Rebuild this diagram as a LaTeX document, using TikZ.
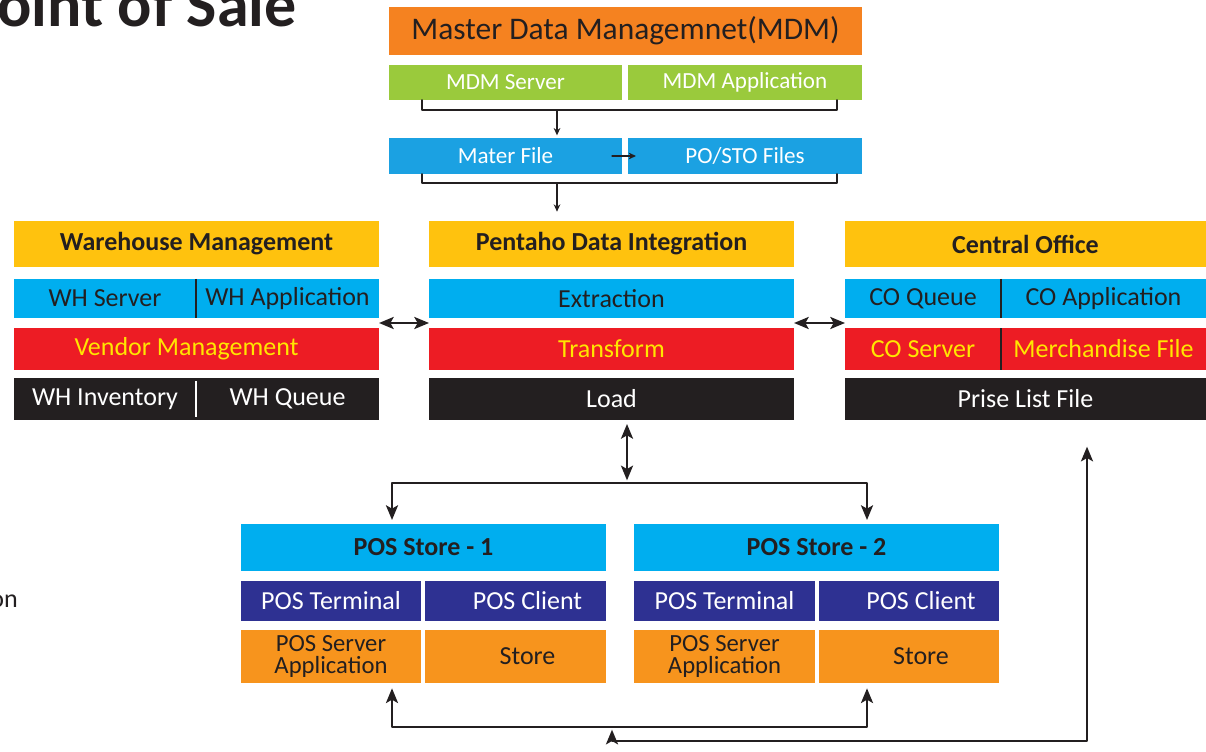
\documentclass[tikz,border=0pt]{standalone}
\usepackage{fontspec}
\setmainfont{Carlito}
\usepackage{tikz}
\usetikzlibrary{arrows.meta,calc}
\definecolor{mdmorange}{HTML}{F58220}
\definecolor{mdmgreen}{HTML}{9ACA3C}
\definecolor{fileblue}{HTML}{1BA1E2}
\definecolor{hdryellow}{HTML}{FFC20E}
\definecolor{rowblue}{HTML}{00AEEF}
\definecolor{rowred}{HTML}{ED1C24}
\definecolor{rowblack}{HTML}{231F20}
\definecolor{posnavy}{HTML}{2E3192}
\definecolor{posorange}{HTML}{F7941D}
\definecolor{ink}{HTML}{231F20}
\definecolor{textyellow}{HTML}{FFE600}
\newcommand{\TitleFont}{\fontsize{48}{50}\selectfont\bfseries}
\newcommand{\BigFont}{\fontsize{23.6}{26}\selectfont}
\newcommand{\SmallFont}{\fontsize{17.3}{20}\selectfont}
\newcommand{\RowFont}{\fontsize{19.5}{22}\selectfont}
\newcommand{\TwoLineFont}{\fontsize{18.5}{17}\selectfont}
\newcommand{\HeadFont}{\fontsize{19.5}{22}\selectfont\bfseries}

\begin{document}
\begin{tikzpicture}[line cap=round,line join=round,x=0.75pt,y=-0.75pt,
  cell/.style={rectangle,inner sep=0pt,outer sep=0pt,text=ink,font=\RowFont,align=center},
  boxsize/.style 2 args={minimum width=#1*0.75pt,minimum height=#2*0.75pt},
  head/.style={cell,fill=hdryellow,font=\HeadFont},
  bracket/.style={draw=ink,line width=1.3pt},
  thinarrow/.style={draw=ink,line width=0.9pt,-{Stealth[length=5.5pt,width=5pt]}},
  link/.style={draw=ink,line width=1.8pt},
  divider/.style={line width=1.5pt,line cap=butt},
  >={Stealth[length=11pt,width=9pt,inset=2.5pt]}]
  \useasboundingbox[fill=white] (0,0) rectangle (1206,752);
  \node[font=\TitleFont,text=ink,anchor=base east,inner sep=0pt] (title) at (297,27) {Point of Sale};
  \node[font=\RowFont,text=ink,anchor=base east,inner sep=0pt] (sidenote) at (18,607) {on};

  \node[cell,fill=mdmorange,font=\BigFont,boxsize={473}{48}] (mdm) at (625.5,31) {Master Data Managemnet(MDM)};
  \node[cell,fill=mdmgreen,text=white,font=\SmallFont,boxsize={233}{35}] (mdmsrv) at (505.5,82.5) {MDM Server};
  \node[cell,fill=mdmgreen,text=white,font=\SmallFont,boxsize={234}{35}] (mdmapp) at (745,82.5) {MDM Application};
  \node[cell,fill=fileblue,text=white,font=\SmallFont,boxsize={233}{36}] (mater) at (505.5,156) {Mater File};
  \node[cell,fill=fileblue,text=white,font=\SmallFont,boxsize={234}{36}] (postofiles) at (745,156) {PO/STO Files};
  \draw[bracket] ($(mdmsrv.south west)+(33,0)$) |- ($(mdmapp.south east)+(-25,10)$) -- ($(mdmapp.south east)+(-25,0)$);
  \coordinate (b1) at (557,110);
  \draw[thinarrow,shorten >=2pt] (b1) -- (b1 |- mater.north);
  \draw[thinarrow] ($(mater.east)+(-10,0)$) -- ($(postofiles.west)+(8,0)$);
  \draw[bracket] ($(mater.south west)+(33,0)$) |- ($(postofiles.south east)+(-25,9)$) -- ($(postofiles.south east)+(-25,0)$);
  \coordinate (b2) at (557,183);

  \node[head,boxsize={365}{46}] (wh) at (196.5,244) {Warehouse Management};
  \node[cell,fill=rowblue,boxsize={182}{39}] (whsrv) at (105,298.5) {WH Server};
  \node[cell,fill=rowblue,boxsize={183}{39}] (whapp) at (287.5,298.5) {WH Application};
  \node[cell,fill=rowred,text=textyellow,boxsize={365}{42}] (vendor) at (196.5,349) {Vendor Management\hspace*{15pt}};
  \node[cell,fill=rowblack,text=white,boxsize={182}{42}] (whinv) at (105,399) {WH Inventory};
  \node[cell,fill=rowblack,text=white,boxsize={183}{42}] (whqueue) at (287.5,399) {WH Queue};
  \draw[divider,ink] (whsrv.north east) -- (whsrv.south east);
  \draw[divider,white] ($(whinv.north east)+(0,3)$) -- ($(whinv.south east)+(0,-3)$);

  \node[head,boxsize={365}{46}] (pdi) at (611.5,244) {Pentaho Data Integration};
  \node[cell,fill=rowblue,boxsize={365}{39}] (extract) at (611.5,298.5) {Extraction};
  \node[cell,fill=rowred,text=textyellow,boxsize={365}{42}] (transform) at (611.5,349) {Transform};
  \node[cell,fill=rowblack,text=white,boxsize={365}{42}] (load) at (611.5,399) {Load};
  \draw[thinarrow,shorten >=7pt] (b2) -- (b2 |- pdi.north);

  \node[head,boxsize={361}{46}] (co) at (1025.5,244) {Central Office};
  \node[cell,fill=rowblue,boxsize={156}{39}] (coqueue) at (923,298.5) {CO Queue};
  \node[cell,fill=rowblue,boxsize={205}{39}] (coapp) at (1103.5,298.5) {CO Application};
  \node[cell,fill=rowred,text=textyellow,boxsize={156}{42}] (coserver) at (923,349) {CO Server};
  \node[cell,fill=rowred,text=textyellow,boxsize={205}{42}] (merch) at (1103.5,349) {Merchandise File};
  \node[cell,fill=rowblack,text=white,boxsize={361}{42}] (plist) at (1025.5,399) {Prise List File};
  \draw[divider,ink] (coqueue.north east) -- (coqueue.south east);
  \draw[divider,ink] (coserver.north east) -- (coserver.south east);

  \draw[link,<->] ($(whapp.south east)!.5!(vendor.north east)$) -- ($(extract.south west)!.5!(transform.north west)$);
  \draw[link,<->] ($(extract.south east)!.5!(transform.north east)$) -- ($(coqueue.south west)!.5!(coserver.north west)$);

  \node[head,fill=rowblue,boxsize={365}{47}] (pos1) at (423.5,547.5) {POS Store - 1};
  \node[cell,fill=posnavy,text=white,boxsize={180}{40}] (term1) at (331,601) {POS Terminal};
  \node[cell,fill=posnavy,text=white,boxsize={181}{40}] (client1) at (515.5,601) {\hspace*{18pt}POS Client};
  \node[cell,fill=posorange,font=\TwoLineFont,boxsize={180}{53}] (psa1) at (331,656.5) {POS Server\\Application};
  \node[cell,fill=posorange,boxsize={181}{53}] (store1) at (515.5,656.5) {\hspace*{18pt}Store};

  \node[head,fill=rowblue,boxsize={365}{47}] (pos2) at (816.5,547.5) {POS Store - 2};
  \node[cell,fill=posnavy,text=white,boxsize={181}{40}] (term2) at (724.5,601) {POS Terminal};
  \node[cell,fill=posnavy,text=white,boxsize={180}{40}] (client2) at (909,601) {\hspace*{18pt}POS Client};
  \node[cell,fill=posorange,font=\TwoLineFont,boxsize={181}{53}] (psa2) at (724.5,656.5) {POS Server\\Application};
  \node[cell,fill=posorange,boxsize={180}{53}] (store2) at (909,656.5) {\hspace*{18pt}Store};

  \coordinate (hub) at (627,483);
  \coordinate (tap1) at (392,483);
  \coordinate (tap2) at (867,483);
  \draw[link,<->,shorten <=3pt,shorten >=2pt] (load.south -| hub) -- (hub);
  \draw[link,->,shorten >=3pt] (hub) -| (pos1.north -| tap1);
  \draw[link,->,shorten >=3pt] (hub) -| (pos2.north -| tap2);

  \coordinate (loop1) at (392,727);
  \coordinate (loop2) at (867,727);
  \coordinate (ret) at (1087,741);
  \coordinate (meet) at (612,727);
  \draw[link,<->,shorten <=4pt,shorten >=4pt] (psa1.south -| loop1) |- (loop2) -- (store2.south -| loop2);
  \draw[link,<->,shorten <=20pt,shorten >=2pt] (plist.south -| ret) -- (ret) -| (meet);
\end{tikzpicture}
\end{document}
